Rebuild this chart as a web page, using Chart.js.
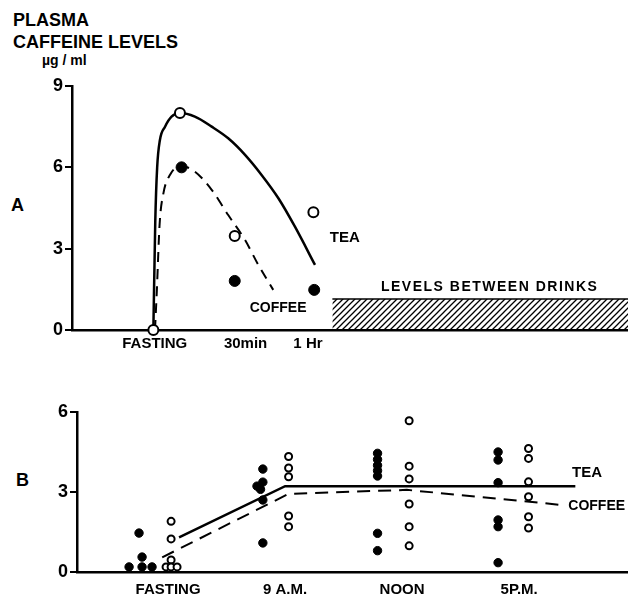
<!DOCTYPE html>
<html lang="en">
<head>
<meta charset="UTF-8">
<title>Plasma caffeine levels</title>
<script src="https://cdn.jsdelivr.net/npm/chart.js@4/dist/chart.umd.min.js"></script>
<style>
  body { margin: 0; background: #fff; width: 628px; height: 596px; position: relative; overflow: hidden;
         font-family: "Liberation Sans", Arial, sans-serif; font-weight: bold; color: #000; }
  .lbl { position: absolute; white-space: nowrap; line-height: 1; }
  canvas { position: absolute; left: 0; }
  #chartA { top: 0; }
  #chartB { top: 380px; }
</style>
</head>
<body>
<div class="lbl" style="left:13px; top:11px; font-size:18px;">PLASMA</div>
<div class="lbl" style="left:13px; top:33px; font-size:18px;">CAFFEINE LEVELS</div>
<div class="lbl" style="left:42px; top:53px; font-size:14px;">µg / ml</div>
<div class="lbl" style="left:11px; top:196px; font-size:18px;">A</div>
<div class="lbl" style="left:16px; top:471px; font-size:18px;">B</div>

<canvas id="chartA" width="628" height="360"></canvas>
<canvas id="chartB" width="628" height="216"></canvas>

<script>
// ---- Panel A: minutes after the drink vs plasma caffeine (µg/ml)
const aTickPos = [0.5, 34, 57];
const aTickLabels = ['FASTING', '30min', '1 Hr'];

const teaCurveMin = [0, 0.7, 1.4, 2.4, 4.3, 6.7, 9.8, 15.3, 21.5, 27.6, 33.8, 39.9, 46.1, 52.2, 59.6];
const teaCurveVal = [0, 4.0, 6.0, 7.0, 7.5, 7.87, 8.0, 7.87, 7.5, 7.07, 6.46, 5.72, 4.86, 3.81, 2.4];
const coffeeCurveMin = [0.6, 1.3, 2.3, 3.7, 6.1, 10.2, 15.3, 21.5, 27.6, 33.8, 38.7, 44.2];
const coffeeCurveVal = [0, 1.5, 3.9, 5.04, 5.72, 6.05, 5.84, 5.17, 4.24, 3.32, 2.4, 1.48];

const teaPointMin = [0, 9.8, 30, 59];
const teaPointVal = [0, 8.0, 3.47, 4.34];
const coffeePointMin = [10.4, 30, 59.3];
const coffeePointVal = [6.0, 1.81, 1.48];

const betweenMin = [66, 175];
const betweenVal = [1.14, 1.14];

// ---- Panel B: time of day vs plasma caffeine (µg/ml)
const bTickPos = [1, 2, 3, 4];
const bTickLabels = ['FASTING', '9 A.M.', 'NOON', '5P.M.'];

// open circles = tea
const teaDotX = [1.026, 1.026, 1.026, 0.983, 1.026, 1.077,
                 2.03, 2.03, 2.03, 2.03, 2.03,
                 3.06, 3.06, 3.06, 3.06, 3.06, 3.06,
                 4.08, 4.08, 4.08, 4.08, 4.08, 4.08];
const teaDotY = [1.9, 1.24, 0.45, 0.19, 0.19, 0.19,
                 4.33, 3.9, 3.57, 2.1, 1.7,
                 5.67, 3.97, 3.49, 2.55, 1.7, 0.98,
                 4.63, 4.26, 3.38, 2.82, 2.07, 1.65];
// filled circles = coffee
const coffeeDotX = [0.752, 0.778, 0.667, 0.778, 0.863,
                    1.81, 1.76, 1.81, 1.79, 1.81, 1.81,
                    2.79, 2.79, 2.79, 2.79, 2.79, 2.79, 2.79,
                    3.82, 3.82, 3.82, 3.82, 3.82, 3.82];
const coffeeDotY = [1.46, 0.56, 0.19, 0.19, 0.19,
                    3.86, 3.22, 3.37, 3.1, 2.7, 1.09,
                    4.45, 4.22, 4.0, 3.8, 3.6, 1.45, 0.8,
                    4.5, 4.2, 3.35, 1.95, 1.7, 0.35];

const teaMeanX = [1.094, 2.0, 4.48];
const teaMeanY = [1.3, 3.22, 3.22];
const coffeeMeanX = [0.95, 2.03, 3.04, 4.18, 4.37];
const coffeeMeanY = [0.55, 2.93, 3.08, 2.6, 2.5];

const FONT = '"Liberation Sans", Arial, sans-serif';

function pts(xs, ys) {
  return xs.map((x, i) => ({ x: x, y: ys[i] }));
}

// diagonal hatching for the "between drinks" band
function hatch() {
  const c = document.createElement('canvas');
  c.width = 6; c.height = 6;
  const g = c.getContext('2d');
  g.strokeStyle = '#000';
  g.lineWidth = 1.3;
  g.beginPath();
  g.moveTo(0, 6); g.lineTo(6, 0);
  g.moveTo(-1, 1); g.lineTo(1, -1);
  g.moveTo(5, 7); g.lineTo(7, 5);
  g.stroke();
  return g.createPattern(c, 'repeat');
}

// text labels placed in data coordinates
function notes(items) {
  return {
    id: 'notes',
    afterDatasetsDraw(chart) {
      const ctx = chart.ctx, x = chart.scales.x, y = chart.scales.y;
      ctx.save();
      ctx.fillStyle = '#000';
      ctx.textBaseline = 'middle';
      items.forEach(n => {
        ctx.font = 'bold ' + n.size + 'px ' + FONT;
        ctx.textAlign = n.align || 'center';
        ctx.letterSpacing = n.spacing || '0px';
        ctx.fillText(n.text, x.getPixelForValue(n.x), y.getPixelForValue(n.y));
      });
      ctx.restore();
    }
  };
}

function axes(o) {
  return {
    x: {
      type: 'linear', min: o.xMin, max: o.xMax,
      afterFit: s => { s.height = o.xH; },
      afterBuildTicks: s => { s.ticks = o.tickPos.map(v => ({ value: v })); },
      grid: { display: true, drawOnChartArea: false, drawTicks: false },
      border: { display: true, color: '#000', width: 2.5 },
      ticks: {
        color: '#000', font: { family: FONT, size: 15, weight: 'bold' },
        padding: o.xPad, maxRotation: 0, autoSkip: false,
        callback: (v, i) => o.tickLabels[i]
      }
    },
    y: {
      type: 'linear', min: 0, max: o.yMax,
      afterFit: s => { s.width = o.yW; },
      grid: { drawOnChartArea: false, drawTicks: true, tickLength: 7, color: '#000', lineWidth: 2 },
      border: { display: true, color: '#000', width: 2.5 },
      ticks: { stepSize: 3, color: '#000', font: { family: FONT, size: 18, weight: 'bold' }, padding: 2 }
    }
  };
}

const common = {
  responsive: false,
  animation: false,
  events: [],
  plugins: { legend: { display: false }, tooltip: { enabled: false } }
};

function curve(data, dashed, smooth) {
  return {
    type: 'line', data: data, showLine: true, pointRadius: 0,
    borderColor: '#000', borderWidth: dashed ? 2 : 2.5,
    borderDash: dashed ? [10, 7] : [],
    cubicInterpolationMode: smooth ? 'monotone' : 'default', tension: 0,
    fill: false, order: 1
  };
}

function dots(data, open, r) {
  return {
    type: 'scatter', data: data, showLine: false, clip: false, order: 0,
    pointRadius: r, pointBorderWidth: open ? 2 : 1,
    pointBackgroundColor: open ? '#fff' : '#000', pointBorderColor: '#000'
  };
}

new Chart(document.getElementById('chartA'), {
  type: 'scatter',
  data: {
    datasets: [
      {
        type: 'line', data: pts(betweenMin, betweenVal), pointRadius: 0,
        borderColor: '#000', borderWidth: 1.5, backgroundColor: hatch(),
        fill: 'origin', order: 2
      },
      curve(pts(teaCurveMin, teaCurveVal), false, true),
      curve(pts(coffeeCurveMin, coffeeCurveVal), true, true),
      dots(pts(teaPointMin, teaPointVal), true, 5),
      dots(pts(coffeePointMin, coffeePointVal), false, 5.5)
    ]
  },
  options: Object.assign({}, common, {
    layout: { padding: { top: 86, left: 0, right: 0, bottom: 0 }, autoPadding: false },
    scales: axes({ xMin: -30, xMax: 175, xH: 30, xPad: 5, yMax: 9, yW: 72,
                   tickPos: aTickPos, tickLabels: aTickLabels })
  }),
  plugins: [notes([
    { text: 'TEA', x: 70.6, y: 3.39, size: 15 },
    { text: 'COFFEE', x: 46, y: 0.81, size: 14 },
    { text: 'LEVELS BETWEEN DRINKS', x: 124, y: 1.59, size: 14, spacing: '1.5px' }
  ])]
});

const coffeeMeanLine = curve(pts(coffeeMeanX, coffeeMeanY), true, false);
coffeeMeanLine.borderDash = [13, 8];

new Chart(document.getElementById('chartB'), {
  type: 'scatter',
  data: {
    datasets: [
      curve(pts(teaMeanX, teaMeanY), false, false),
      coffeeMeanLine,
      dots(pts(teaDotX, teaDotY), true, 3.5),
      dots(pts(coffeeDotX, coffeeDotY), false, 4.2)
    ]
  },
  options: Object.assign({}, common, {
    layout: { padding: { top: 32, left: 0, right: 0, bottom: 0 }, autoPadding: false },
    scales: axes({ xMin: 0.222, xMax: 4.93, xH: 24, xPad: 9, yMax: 6, yW: 77,
                   tickPos: bTickPos, tickLabels: bTickLabels })
  }),
  plugins: [notes([
    { text: 'TEA', x: 4.58, y: 3.71, size: 15 },
    { text: 'COFFEE', x: 4.42, y: 2.47, size: 14, align: 'left' }
  ])]
});
</script>
</body>
</html>
